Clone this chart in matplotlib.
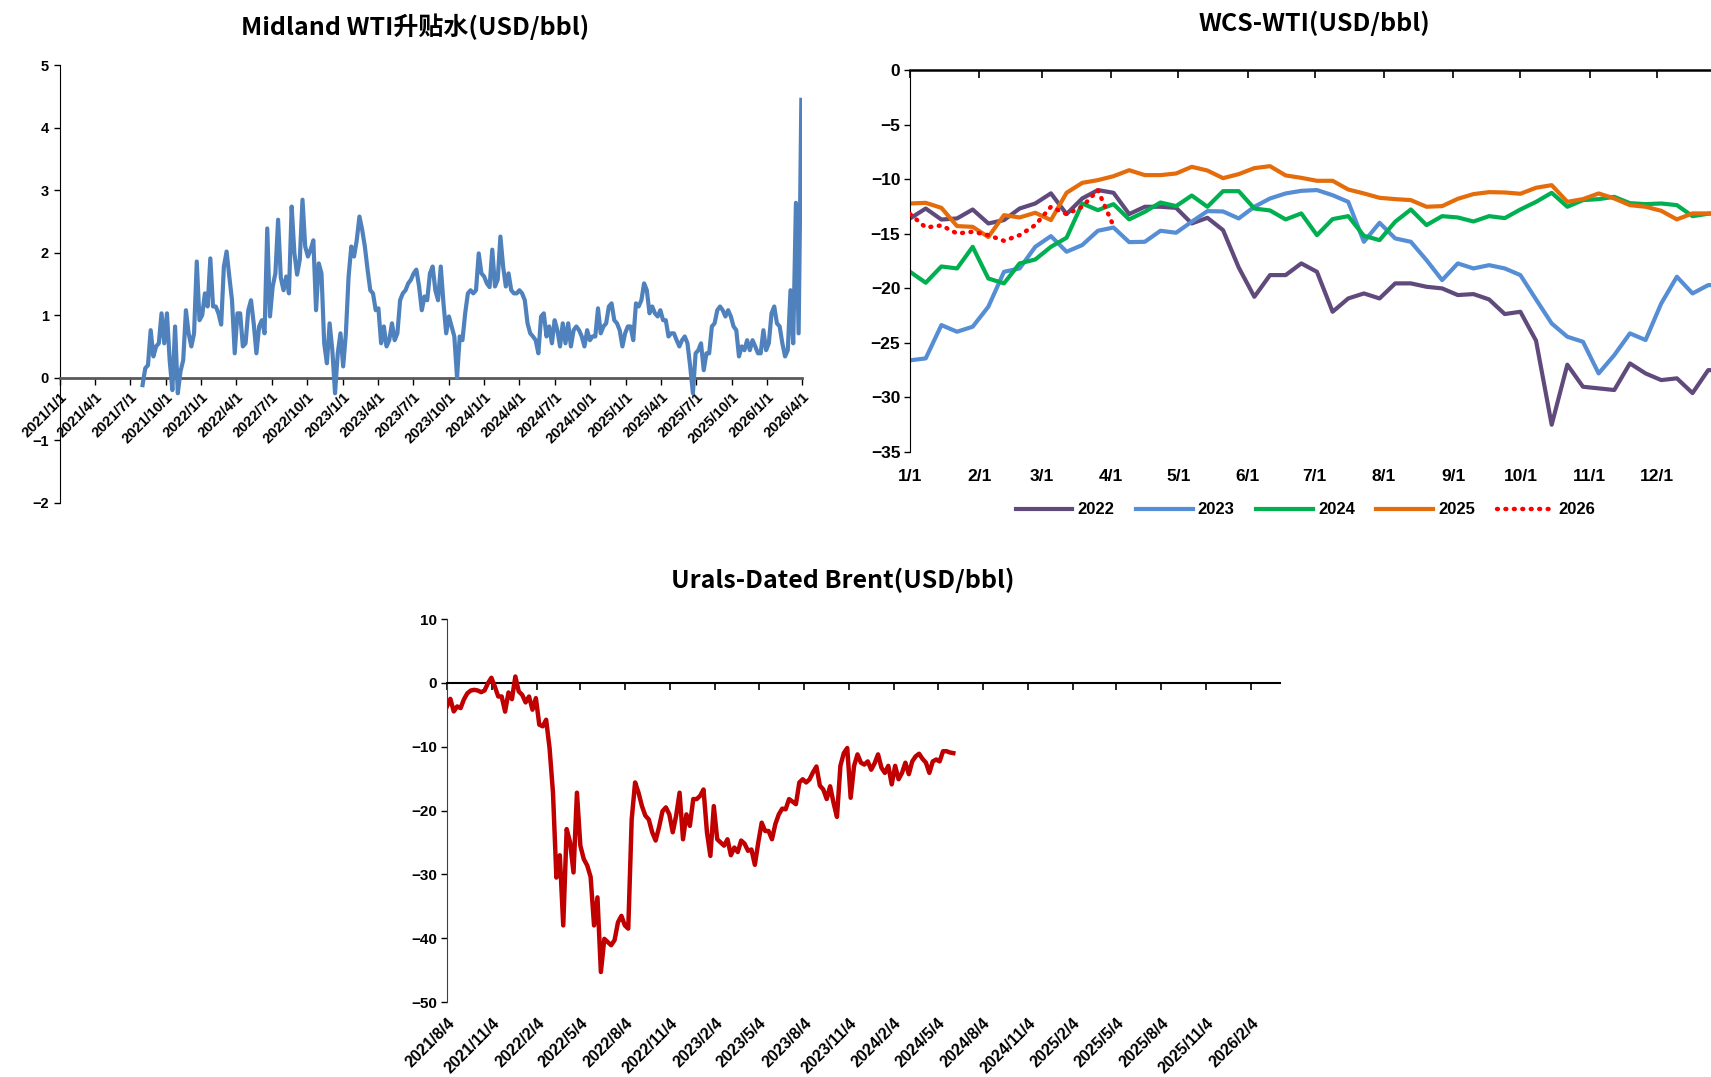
import numpy as np
import pandas as pd
import matplotlib
matplotlib.use("Agg")
import matplotlib.pyplot as plt
import matplotlib.dates as mdates
import matplotlib.transforms as mtransforms
from matplotlib import font_manager

# Midland WTI premium, weekly readings starting 2021-08-02
midland_start = "2021-08-02"
midland = [
    -0.12, 0.15, 0.2, 0.76, 0.34, 0.5, 0.55, 1.03, 0.55, 1.03,
    0.28, -0.2, 0.82, -0.25, 0.1, 0.28, 1.08, 0.71, 0.5, 0.71,
    1.86, 0.92, 1.0, 1.35, 1.14, 1.91, 1.14, 1.14, 1.03, 0.85,
    1.78, 2.02, 1.62, 1.24, 0.39, 1.03, 1.03, 0.5, 0.55, 1.08,
    1.24, 0.87, 0.39, 0.82, 0.92, 0.71, 2.39, 0.98, 1.46, 1.67,
    2.53, 1.6, 1.4, 1.62, 1.35, 2.74, 2.0, 1.65, 1.89, 2.85,
    2.1, 1.94, 2.05, 2.2, 1.08, 1.83, 1.67, 0.55, 0.23, 0.87,
    0.44, -0.25, 0.39, 0.71, 0.18, 0.71, 1.62, 2.1, 1.94, 2.2,
    2.58, 2.37, 2.1, 1.73, 1.4, 1.35, 1.08, 1.11, 0.55, 0.82,
    0.5, 0.6, 0.87, 0.6, 0.71, 1.24, 1.35, 1.4, 1.51, 1.57,
    1.67, 1.73, 1.46, 1.08, 1.3, 1.24, 1.67, 1.78, 1.4, 1.24,
    1.78, 1.19, 0.71, 0.98, 0.82, 0.66, 0.0, 0.66, 0.6, 1.03,
    1.35, 1.4, 1.35, 1.4, 1.99, 1.67, 1.62, 1.51, 1.45, 2.05,
    1.46, 1.57, 2.26, 1.78, 1.46, 1.67, 1.4, 1.35, 1.35, 1.4,
    1.35, 1.24, 0.87, 0.71, 0.66, 0.6, 0.39, 0.98, 1.03, 0.66,
    0.82, 0.55, 0.92, 0.76, 0.5, 0.87, 0.55, 0.87, 0.5, 0.76,
    0.82, 0.76, 0.66, 0.5, 0.76, 0.6, 0.66, 0.66, 1.11, 0.71,
    0.82, 0.87, 1.14, 1.19, 0.92, 0.87, 0.76, 0.5, 0.71, 0.82,
    0.82, 0.6, 1.19, 1.14, 1.24, 1.51, 1.4, 1.03, 1.14, 1.03,
    0.98, 1.08, 0.92, 0.92, 0.66, 0.71, 0.71, 0.6, 0.5, 0.6,
    0.66, 0.55, 0.18, -0.25, 0.39, 0.44, 0.55, 0.12, 0.39, 0.39,
    0.82, 0.87, 1.08, 1.14, 1.08, 0.98, 1.08, 0.98, 0.82, 0.76,
    0.34, 0.5, 0.44, 0.6, 0.44, 0.6, 0.5, 0.39, 0.39, 0.76,
    0.44, 0.55, 1.03, 1.14, 0.87, 0.82, 0.55, 0.34, 0.44, 1.4,
    0.55, 2.8, 0.71, 4.45,
]

# WCS-WTI by year, weekly readings from 1/1
wcs_2022 = [
    -13.6, -12.69, -13.7, -13.6, -12.78, -14.06, -13.75, -12.69, -12.23, -11.3,
    -13.2, -11.77, -11.0, -11.25, -13.2, -12.53, -12.53, -12.63, -14.06, -13.54,
    -14.67, -18.09, -20.78, -18.79, -18.79, -17.72, -18.49, -22.15, -20.93, -20.47,
    -20.93, -19.55, -19.55, -19.86, -20.01, -20.62, -20.53, -21.02, -22.36, -22.15,
    -24.8, -32.5, -27.0, -29.02, -29.17, -29.32, -26.88, -27.8, -28.41, -28.25,
    -29.6, -27.5, -27.5,
]
wcs_2023 = [
    -26.6, -26.42, -23.37, -23.98, -23.52, -21.69, -18.49, -18.18, -16.2, -15.22,
    -16.65, -16.04, -14.73, -14.43, -15.77, -15.74, -14.73, -14.91, -13.9, -12.93,
    -12.96, -13.6, -12.53, -11.77, -11.31, -11.07, -11.0, -11.47, -12.08, -15.74,
    -14.0, -15.43, -15.74, -17.42, -19.25, -17.72, -18.18, -17.88, -18.18, -18.79,
    -21.02, -23.22, -24.44, -24.9, -27.8, -26.12, -24.13, -24.74, -21.39, -18.94,
    -20.47, -19.71, -19.7,
]
wcs_2024 = [
    -18.49, -19.49, -18.0, -18.18, -16.2, -19.1, -19.55, -17.72, -17.36, -16.2,
    -15.37, -12.23, -12.84, -12.29, -13.69, -12.99, -12.14, -12.47, -11.5, -12.53,
    -11.1, -11.1, -12.69, -12.87, -13.69, -13.14, -15.13, -13.66, -13.39, -15.19,
    -15.59, -13.9, -12.78, -14.21, -13.39, -13.51, -13.88, -13.39, -13.57, -12.78,
    -12.08, -11.25, -12.53, -11.92, -11.83, -11.62, -12.2, -12.29, -12.23, -12.38,
    -13.39, -13.17, -13.1,
]
wcs_2025 = [
    -12.23, -12.17, -12.63, -14.3, -14.37, -15.3, -13.3, -13.51, -13.08, -13.75,
    -11.25, -10.34, -10.09, -9.73, -9.18, -9.63, -9.63, -9.48, -8.87, -9.21,
    -9.91, -9.54, -8.99, -8.81, -9.66, -9.88, -10.15, -10.15, -10.95, -11.31,
    -11.71, -11.83, -11.92, -12.53, -12.47, -11.8, -11.37, -11.19, -11.22, -11.34,
    -10.79, -10.55, -12.08, -11.83, -11.31, -11.77, -12.38, -12.53, -12.9, -13.69,
    -13.14, -13.14, -13.1,
]
wcs_2026 = [
    -13.2, -14.43, -14.24, -14.98, -14.82, -15.13, -15.65, -15.13, -14.21, -12.53,
    -13.2, -12.53, -11.0, -14.3,
]
wcs_years = ["2022", "2023", "2024", "2025", "2026"]
month_labels = [f"{m}/1" for m in range(1, 13)]

# Urals - Dated Brent, weekly readings starting 2021-08-04
urals_start = "2021-08-04"
urals = [
    -3.69, -2.5, -4.47, -3.69, -3.95, -2.55, -1.61, -1.19, -1.09, -1.19,
    -1.45, -1.19, -0.05, 0.8, -0.57, -2.13, -2.13, -4.5, -1.5, -2.55,
    1.0, -1.35, -1.87, -3.06, -2.13, -4.2, -2.39, -6.55, -6.8, -5.77,
    -10.2, -17.2, -30.5, -27.0, -38.0, -22.9, -25.0, -29.7, -17.2, -25.5,
    -27.6, -28.6, -30.4, -38.0, -33.6, -45.3, -40.1, -40.6, -41.1, -40.3,
    -37.5, -36.5, -38.0, -38.5, -21.4, -15.6, -17.2, -19.3, -20.8, -21.4,
    -23.4, -24.7, -22.6, -20.1, -19.5, -20.6, -23.4, -20.8, -17.2, -24.5,
    -20.6, -22.4, -18.2, -18.2, -17.7, -16.7, -23.4, -27.1, -19.3, -24.5,
    -25.0, -25.5, -24.5, -27.0, -25.8, -26.5, -24.7, -25.2, -26.3, -26.1,
    -28.5, -25.0, -21.9, -23.2, -23.2, -24.5, -22.1, -20.6, -19.7, -19.8,
    -18.2, -18.6, -19.0, -15.6, -15.1, -15.6, -15.1, -14.0, -13.1, -16.1,
    -16.7, -18.2, -16.2, -18.8, -21.0, -13.0, -11.0, -10.2, -18.0, -13.0,
    -11.2, -12.5, -12.8, -12.3, -13.6, -12.6, -11.2, -13.3, -14.1, -13.0,
    -15.9, -13.0, -15.1, -14.1, -12.5, -14.3, -12.3, -11.5, -11.1, -11.9,
    -12.5, -14.1, -12.3, -12.0, -12.3, -10.7, -10.7, -10.9, -11.0,
]

available = {f.name for f in font_manager.fontManager.ttflist}
num_font = "Liberation Sans Narrow" if "Liberation Sans Narrow" in available else "Liberation Sans"
cjk_font = ["Noto Sans CJK SC", "DejaVu Sans"]

plt.rcParams["font.family"] = [num_font, "DejaVu Sans"]
plt.rcParams["font.weight"] = "bold"
plt.rcParams["axes.unicode_minus"] = True

fig = plt.figure(figsize=(17.11, 10.77), dpi=100)

# ---------------- Midland WTI
ax1 = fig.add_axes([0.0351, 0.5334, 0.4337, 0.4058])
ax1.spines["bottom"].set_position(("data", 0))
ax1.spines["bottom"].set_color("#595959")
ax1.spines["bottom"].set_linewidth(2)
ax1.spines[["top", "right"]].set_visible(False)
d1 = pd.date_range(midland_start, periods=len(midland), freq="7D")
ax1.plot(d1, midland, color="#4F81BD", lw=3.0, zorder=3)
ax1.set_xlim(pd.Timestamp("2021-01-01"), pd.Timestamp("2026-04-01"))
ax1.set_ylim(-2, 5)
ax1.set_yticks(range(-2, 6))
q = pd.date_range("2021-01-01", "2026-04-01", freq="QS")
ax1.set_xticks(q)
ax1.set_xticklabels([f"{d.year}/{d.month}/{d.day}" for d in q],
                    rotation=45, ha="right", rotation_mode="anchor")
ax1.tick_params(axis="x", length=5, width=1, pad=4, labelsize=10.5)
ax1.tick_params(axis="y", length=4, width=1, pad=4, labelsize=10.5)
ax1.patch.set_alpha(0)

# ---------------- WCS-WTI
ax2 = fig.add_axes([0.5319, 0.5803, 0.4769, 0.3547])
wcs_series = [wcs_2022, wcs_2023, wcs_2024, wcs_2025, wcs_2026]
colors = ["#604A7B", "#558ED5", "#00B050", "#E46C0A", "#FF0000"]
for year, vals, c in zip(wcs_years, wcs_series, colors):
    days = np.arange(len(vals)) * 7
    if year == "2026":
        ax2.plot(days, vals, color=c, lw=3.2, linestyle=(0, (0.2, 1.7)),
                 dash_capstyle="round", label=year, zorder=4)
    else:
        ax2.plot(days, vals, color=c, lw=3.0, label=year)
ax2.set_xlim(0, 365)
ax2.set_ylim(-35, 0)
ax2.set_yticks(range(-35, 1, 5))
month_starts = pd.date_range("2025-01-01", periods=12, freq="MS").dayofyear - 1
ax2.set_xticks(month_starts)
ax2.set_xticklabels(month_labels)
ax2.tick_params(axis="x", top=True, bottom=False, labeltop=False, labelbottom=True,
                direction="in", length=6, width=1.2, pad=12, labelsize=12.5)
ax2.tick_params(axis="y", length=4, width=1, pad=3, labelsize=12.5)
ax2.spines["bottom"].set_visible(False)
ax2.spines["right"].set_visible(False)
ax2.spines["top"].set_linewidth(1.8)
ax2.legend(ncol=5, loc="center", bbox_to_anchor=(0.763, 0.5265),
           bbox_transform=fig.transFigure, frameon=False, fontsize=12,
           handlelength=3.4, handletextpad=0.3, columnspacing=1.3)

# ---------------- Urals - Dated Brent
ax3 = fig.add_axes([0.2612, 0.0696, 0.4868, 0.3556])
ax3.spines["bottom"].set_position(("data", 0))
ax3.spines["bottom"].set_linewidth(1.5)
ax3.spines["left"].set_color("#404040")
ax3.spines[["top", "right"]].set_visible(False)
d3 = pd.date_range(urals_start, periods=len(urals), freq="7D")
ax3.plot(d3, urals, color="#C00000", lw=3.2, zorder=3)
ax3.set_xlim(pd.Timestamp("2021-08-04"), pd.Timestamp("2026-04-04"))
ax3.set_ylim(-50, 10)
ax3.set_yticks(range(-50, 11, 10))
t3 = pd.date_range("2021-08-04", "2026-02-04", freq=pd.DateOffset(months=3))
ax3.set_xticks(t3)
ax3.tick_params(axis="x", labelbottom=False, length=5, width=1.2)
ax3.tick_params(axis="y", length=4, width=1, pad=3, labelsize=11)
trans = mtransforms.blended_transform_factory(ax3.transData, ax3.transAxes)
for d in t3:
    ax3.text(mdates.date2num(d), -0.035, f"{d.year}/{d.month}/{d.day}", transform=trans,
             rotation=45, ha="right", va="top", rotation_mode="anchor", fontsize=11.5)

# titles
fig.text(415 / 1711, 1 - 27 / 1077, "Midland WTI升贴水(USD/bbl)", ha="center", va="center",
         fontsize=18, fontweight="bold", family=cjk_font)
fig.text(1314 / 1711, 1 - 23 / 1077, "WCS-WTI(USD/bbl)", ha="center", va="center",
         fontsize=18, fontweight="bold", family=cjk_font)
fig.text(843 / 1711, 1 - 580 / 1077, "Urals-Dated Brent(USD/bbl)", ha="center", va="center",
         fontsize=18, fontweight="bold", family=cjk_font)

fig.savefig("out.png", dpi=100)
